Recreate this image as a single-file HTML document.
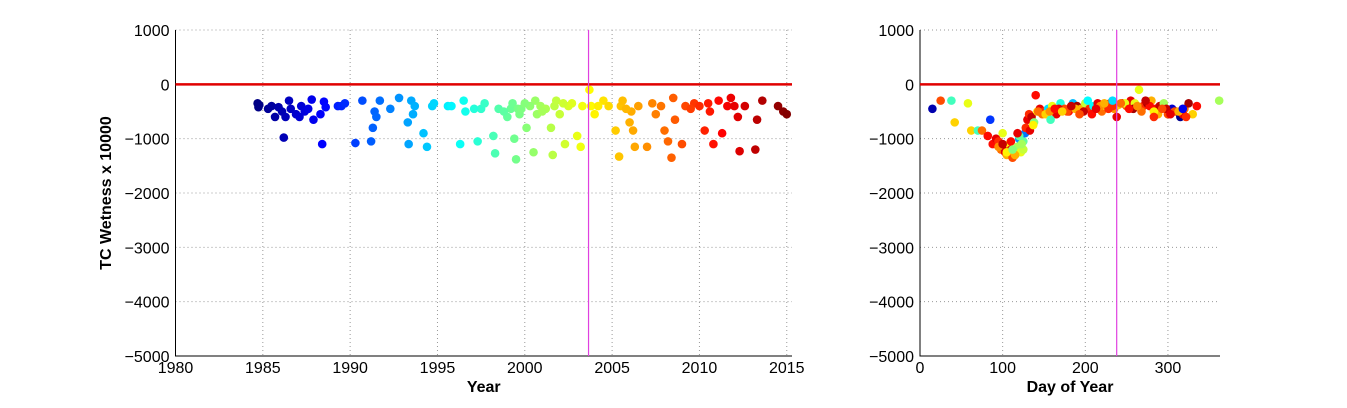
<!DOCTYPE html>
<html><head><meta charset="utf-8"><style>
body{margin:0;background:#fff;}
svg text{font-family:"Liberation Sans",Arial,sans-serif;}
</style></head><body>
<svg id="chart" width="1347" height="403" xmlns="http://www.w3.org/2000/svg"></svg>
<script>
// Left panel data: decimal year and wetness
const leftYears=[1984.7,1984.75,1984.8,1985.3,1985.5,1985.7,1985.9,1986.1,1986.2,1986.3,1986.5,1986.6,1986.9,1987.1,1987.2,1987.4,1987.6,1987.8,1987.9,1988.3,1988.4,1988.5,1988.6,1989.3,1989.5,1989.7,
1990.3,1990.7,1991.2,1991.3,1991.4,1991.5,1991.7,1992.3,1992.8,1993.3,1993.35,1993.5,1993.6,1993.7,1994.2,1994.4,1994.7,1994.8,1995.6,1995.8,1996.3,1996.5,1996.6,1997.3,1997.5,1997.7,1998.2,1998.3,1998.5,1999.0,1999.2,1999.3,1999.4,1999.5,1999.6,1999.7,
2000.1,2000.5,2000.6,2000.7,2000.9,2001.5,2001.6,2001.7,2001.8,2002.0,2002.3,2002.5,2002.7,2003.0,2003.2,2003.3,2003.7,2003.8,2004.0,2004.5,2004.8,2005.2,2005.4,2005.5,2005.6,2006.0,2006.1,2006.2,2006.3,2006.5,2007.0,2007.3,2007.5,2008.0,2008.2,2008.4,2008.5,2008.6,2009.0,2009.2,2009.7,2010.0,2010.3,2010.5,2010.8,2011.1,2011.3,2011.6,2011.8,2012.2,2012.3,2012.6,2013.2,2013.3,2013.6,2014.5,2014.8,2015.0,
1999.8,2000.3,2001.2,2002.2,2004.2,2005.8,2007.8,2009.5,2010.6,2012.0,1998.8,1997.1,2000.0,2001.0];
const leftValues=[-350,-420,-380,-450,-400,-600,-420,-500,-980,-600,-300,-450,-550,-600,-400,-500,-450,-280,-650,-550,-1100,-320,-420,-400,-400,-350,
-1080,-300,-1050,-800,-500,-600,-300,-450,-250,-700,-1100,-300,-550,-400,-900,-1150,-400,-350,-400,-400,-1100,-300,-500,-1050,-450,-350,-950,-1270,-450,-600,-450,-350,-1000,-1380,-450,-550,
-800,-1250,-300,-550,-400,-800,-1300,-400,-300,-550,-1100,-400,-350,-950,-1150,-400,-100,-400,-550,-300,-400,-850,-1330,-400,-300,-700,-500,-850,-1150,-400,-1150,-350,-550,-850,-1050,-1350,-250,-650,-1100,-400,-350,-400,-850,-350,-1100,-300,-900,-400,-250,-600,-1230,-400,-1200,-650,-300,-400,-500,-550,
-450,-400,-450,-350,-400,-450,-400,-450,-500,-400,-500,-450,-350,-500];
// Right panel data: day of year, wetness, acquisition year (for colour)
const rightDoy=[15,25,38,42,58,62,70,75,82,85,88,92,95,98,100,103,105,108,110,112,115,118,120,122,125,127,130,132,135,138,140,142,145,148,150,155,160,165,170,175,180,185,190,195,200,205,210,215,220,225,230,235,240,245,250,255,260,265,270,275,280,285,290,295,300,305,310,315,320,325,330,335,362,
95,100,105,110,115,120,125,128,133,137,143,152,158,168,178,188,198,208,218,228,238,248,258,268,278,288,298,308,318,322,100,112,118,123,
157,163,172,183,193,203,213,223,233,243,253,263,273,283,293,303,313,318,283,233];
const rightValues=[-450,-300,-300,-700,-350,-850,-850,-850,-950,-650,-1100,-1000,-1050,-1200,-1150,-1250,-1300,-1100,-1200,-1350,-1300,-1150,-1000,-1250,-1050,-900,-650,-550,-600,-700,-200,-500,-450,-550,-500,-450,-400,-550,-350,-450,-500,-350,-400,-450,-350,-450,-400,-350,-500,-400,-350,-450,-380,-350,-400,-300,-350,-100,-400,-350,-300,-450,-400,-350,-550,-450,-500,-600,-450,-350,-550,-400,-300,
-1150,-1100,-1250,-1050,-1300,-950,-1200,-800,-850,-750,-500,-550,-650,-450,-500,-450,-500,-550,-400,-450,-600,-350,-450,-500,-400,-550,-450,-500,-550,-600,-900,-1200,-900,-1100,
-500,-450,-500,-400,-550,-300,-450,-350,-400,-350,-450,-400,-300,-500,-450,-550,-500,-450,-600,-300];
const rightYears=[1986,2009,1998,2005,2003,2005,1998,2008,2011,1990,2011,2012,2010,2008,2013,2012,2006,2004,2011,2009,2008,2001,1993,2003,1999,1992,2012,2010,2013,2000,2011,2004,2012,2008,2010,1995,2003,2012,1997,2009,2011,1994,2014,2006,2002,2010,1996,2012,2008,2003,2011,2007,2005,2013,2009,2012,2003,2003,2010,2014,2006,2011,2013,2001,2009,1987,2012,1985,2008,2014,2005,2011,2001,
2007,2013,2004,2011,2006,1999,2002,2010,2012,2004,2008,2005,1998,2012,2009,2006,2013,2011,2007,2010,2012,2003,2014,2008,2011,2006,2013,2009,2012,2010,2003,2000,2012,2001,
2007,2011,2005,2013,2009,1996,2012,2006,2010,2008,2011,2007,2013,2004,2009,2012,2006,1988,2010,1995];
const leftTicksX=[1980,1985,1990,1995,2000,2005,2010,2015];
const rightTicksX=[0,100,200,300];
const ticksY=[1000,0,-1000,-2000,-3000,-4000,-5000];

const svg=document.getElementById('chart');
const NS='http://www.w3.org/2000/svg';
function mk(tag,attrs,parent){const e=document.createElementNS(NS,tag);for(const k in attrs)e.setAttribute(k,attrs[k]);(parent||svg).appendChild(e);return e;}
function jet(t){t=Math.max(0,Math.min(1,t));const r=Math.max(0,Math.min(1,1.5-Math.abs(4*t-3)));const g=Math.max(0,Math.min(1,1.5-Math.abs(4*t-2)));const b=Math.max(0,Math.min(1,1.5-Math.abs(4*t-1)));return `rgb(${Math.round(r*255)},${Math.round(g*255)},${Math.round(b*255)})`;}
const yTop=30,yBot=356;
function yS(v){return yTop+(1000-v)/6000*(yBot-yTop);}
function colYear(y){return jet((y-1984.6)/(2015.1-1984.6));}

function panel(name,x0,x1,xmin,xmax,ticks,xs,vs,cs,vline,xlabel){
  const g=mk('g',{});
  
  
  const xS=v=>x0+(v-xmin)/(xmax-xmin)*(x1-x0);
  ticks.forEach(t=>{const l=mk('line',{x1:xS(t),x2:xS(t),y1:yTop,y2:yBot,stroke:'#999','stroke-dasharray':'1,3','stroke-width':1},g);
    const tx=mk('text',{x:xS(t),y:yBot+17,'font-size':16,'text-anchor':'middle'},g);tx.textContent=t;});
  ticksY.forEach(t=>{const l=mk('line',{x1:x0,x2:x1,y1:yS(t),y2:yS(t),stroke:'#999','stroke-dasharray':'1,3','stroke-width':1},g);
    const tx=mk('text',{x:x0-6,y:yS(t)+6,'font-size':16,'text-anchor':'end'},g);tx.textContent=t===0?'0':(t<0?'\u2212'+(-t):t);});
  const ax=mk('path',{d:`M${x0},${yTop}V${yBot}H${x1}`,stroke:'#000','stroke-width':1,fill:'none'},g);
  
  xs.forEach((x,i)=>{const c=mk('circle',{cx:xS(x),cy:yS(vs[i]),r:4.3,fill:colYear(cs[i])},g);});
  const z=mk('line',{x1:x0,x2:x1,y1:yS(0),y2:yS(0),stroke:'#e00000','stroke-width':2.5},g);
  
  const m=mk('line',{x1:xS(vline),x2:xS(vline),y1:yTop,y2:yBot,stroke:'#e040e0','stroke-width':1.2},g);
  
  const xl=mk('text',{x:(x0+x1)/2,y:yBot+36,'font-size':16,'font-weight':'bold','text-anchor':'middle'},g);xl.textContent=xlabel;
  
}
panel('left-panel',175.5,792,1980,2015.3,leftTicksX,leftYears,leftValues,leftYears,2003.65,'Year');
panel('right-panel',920,1220,0,363,rightTicksX,rightDoy,rightValues,rightYears,238,'Day of Year');
const yt=mk('text',{x:0,y:0,'font-size':16,'font-weight':'bold','text-anchor':'middle',transform:'translate(111,193) rotate(-90)'});
yt.textContent='TC Wetness x 10000';


</script>
</body></html>
